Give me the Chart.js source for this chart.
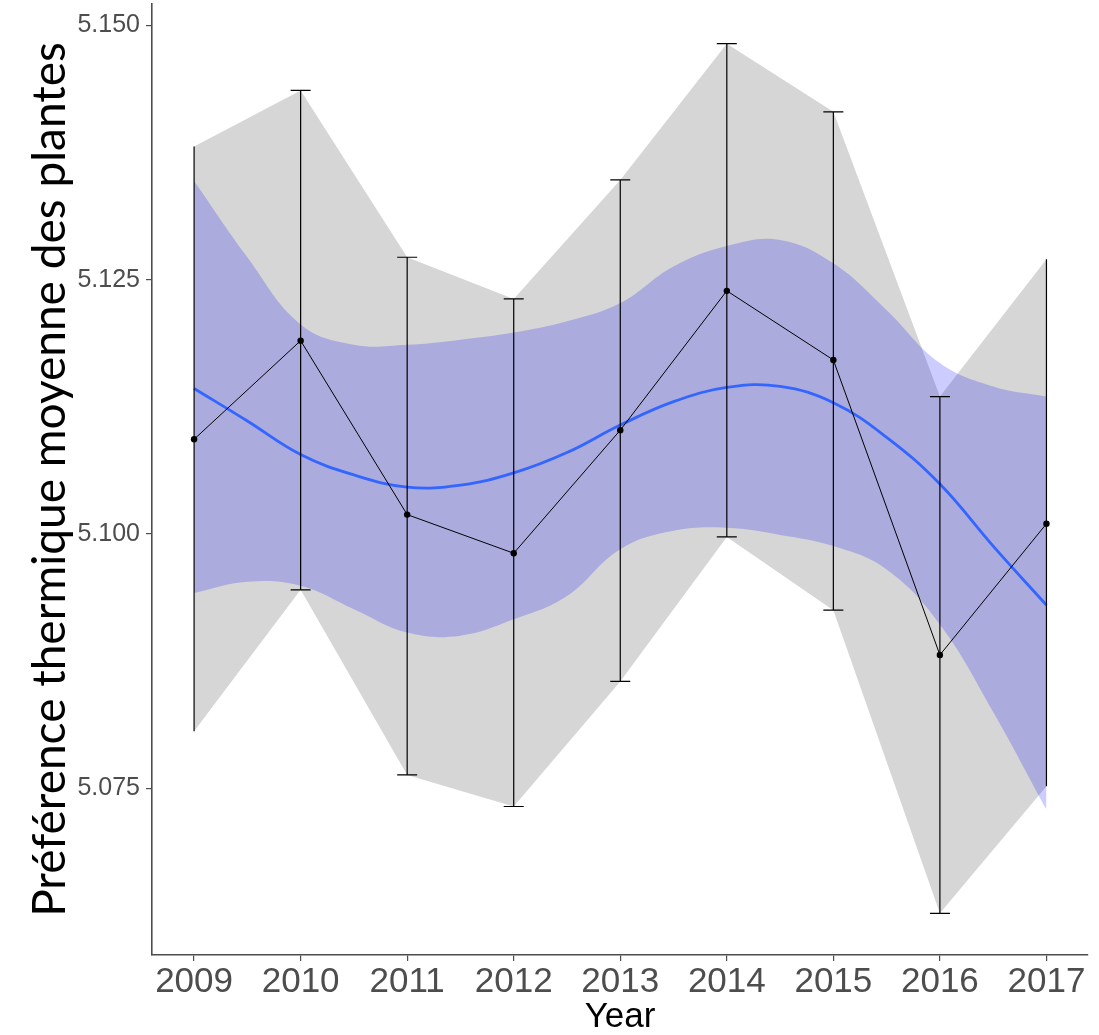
<!DOCTYPE html>
<html lang="fr">
  <head>
    <meta charset="UTF-8" />
    <title>Préférence thermique moyenne des plantes</title>
    <style>
      body {
        margin: 0;
        padding: 0;
        background-color: white;
      }
      .chart-container {
        width: 1099px;
        height: 1035px;
      }
    </style>
  </head>
  <body>
    <div class="chart-container">
      <canvas id="myChart"></canvas>
    </div>
    <script src="https://cdn.jsdelivr.net/npm/chart.js@4.4.1/dist/chart.umd.min.js"></script>
    <script>
      // yearly means with error bar ends
      const years = [2009, 2010, 2011, 2012, 2013, 2014, 2015, 2016, 2017];
      const meanVals = [5.1093, 5.119, 5.1019, 5.0981, 5.1102, 5.1239, 5.1171, 5.0881, 5.101];
      const ciLow = [5.0806, 5.0945, 5.0763, 5.0732, 5.0855, 5.0997, 5.0925, 5.0627, 5.0752];
      const ciHigh = [5.1381, 5.1436, 5.1272, 5.1231, 5.1348, 5.1482, 5.1415, 5.1135, 5.127];

      // loess fit read every half year
      const smoothYears = [2009, 2009.5, 2010, 2010.5, 2011, 2011.5, 2012, 2012.5, 2013,
        2013.5, 2014, 2014.5, 2015, 2015.5, 2016, 2016.5, 2017];
      const smoothFit = [5.1143, 5.1111, 5.1078, 5.1058, 5.1046, 5.1048, 5.106, 5.108, 5.1107,
        5.113, 5.1144, 5.1145, 5.1129, 5.1095, 5.1049, 5.0988, 5.093];
      const bandUpper = [5.1347, 5.1272, 5.1206, 5.1186, 5.1186, 5.1191, 5.1198, 5.1209, 5.1227,
        5.1263, 5.1283, 5.1289, 5.1266, 5.122, 5.1168, 5.1145, 5.1135];
      const bandLower = [5.0942, 5.0953, 5.0949, 5.0926, 5.0903, 5.09, 5.0916, 5.0939, 5.0985,
        5.1003, 5.1006, 5.0999, 5.0988, 5.0965, 5.0911, 5.0825, 5.0729];

      const yTicks = [5.075, 5.1, 5.125, 5.15];

      const pts = (xs, ys) => xs.map((x, i) => ({ x: x, y: ys[i] }));
      const axisGrey = "#4d4d4d";
      const arial = "'Liberation Sans', Arial, sans-serif";

      const errorBars = {
        id: "errorBars",
        afterDatasetsDraw(chart) {
          const { ctx, scales } = chart;
          ctx.save();
          ctx.strokeStyle = "#000";
          ctx.lineWidth = 1.2;
          years.forEach((yr, i) => {
            const x = scales.x.getPixelForValue(yr);
            const top = scales.y.getPixelForValue(ciHigh[i]);
            const bot = scales.y.getPixelForValue(ciLow[i]);
            ctx.beginPath();
            ctx.moveTo(x, top);
            ctx.lineTo(x, bot);
            // the first and last bars have no caps in the original
            if (i > 0 && i < years.length - 1) {
              ctx.moveTo(x - 10, top);
              ctx.lineTo(x + 10, top);
              ctx.moveTo(x - 10, bot);
              ctx.lineTo(x + 10, bot);
            }
            ctx.stroke();
          });
          ctx.restore();
        },
      };

      const data = {
        datasets: [
          {
            label: "ci high",
            data: pts(years, ciHigh),
            fill: "+1",
            backgroundColor: "#d6d6d6",
            borderWidth: 0,
            pointRadius: 0,
            order: 6,
          },
          {
            label: "ci low",
            data: pts(years, ciLow),
            borderWidth: 0,
            pointRadius: 0,
            order: 6,
          },
          {
            label: "band upper",
            data: pts(smoothYears, bandUpper),
            fill: "+1",
            backgroundColor: "rgba(0, 0, 255, 0.2)",
            borderWidth: 0,
            pointRadius: 0,
            tension: 0.4,
            order: 5,
          },
          {
            label: "band lower",
            data: pts(smoothYears, bandLower),
            borderWidth: 0,
            pointRadius: 0,
            tension: 0.4,
            order: 5,
          },
          {
            label: "loess",
            data: pts(smoothYears, smoothFit),
            borderColor: "#3366FF",
            borderWidth: 2.8,
            pointRadius: 0,
            tension: 0.4,
            order: 2,
          },
          {
            label: "mean",
            data: pts(years, meanVals),
            borderColor: "#000",
            borderWidth: 1,
            pointRadius: 3.2,
            pointBackgroundColor: "#000",
            pointBorderWidth: 0,
            order: 1,
          },
        ],
      };

      const config = {
        type: "line",
        data: data,
        options: {
          responsive: true,
          maintainAspectRatio: false,
          animation: false,
          layout: { padding: { top: 0, right: 11, left: 0, bottom: 0 } },
          plugins: {
            legend: { display: false },
            tooltip: { enabled: false },
          },
          scales: {
            x: {
              type: "linear",
              min: 2008.605,
              max: 2017.39,
              afterBuildTicks: (scale) => {
                scale.ticks = years.map((v) => ({ value: v }));
              },
              afterFit: (scale) => {
                scale.height = 80;
              },
              grid: { drawOnChartArea: false, color: axisGrey, tickLength: 6, lineWidth: 1.2 },
              border: { display: true, color: axisGrey, width: 1.6 },
              ticks: {
                color: axisGrey,
                padding: 0,
                font: { family: arial, size: 35 },
                callback: (v) => String(v),
              },
              title: {
                display: true,
                text: "Year",
                color: "#000",
                padding: { top: 0, bottom: 0 },
                font: { family: arial, size: 35, lineHeight: 1 },
              },
            },
            y: {
              min: 5.0586,
              max: 5.1521,
              afterBuildTicks: (scale) => {
                scale.ticks = yTicks.map((v) => ({ value: v }));
              },
              afterFit: (scale) => {
                scale.width = 152;
                scale.paddingTop = 0;
              },
              grid: { drawOnChartArea: false, color: axisGrey, tickLength: 6, lineWidth: 1.2 },
              border: { display: true, color: axisGrey, width: 1.6 },
              ticks: {
                color: axisGrey,
                padding: 6,
                font: { family: arial, size: 25, lineHeight: 0.1 },
                callback: (v) => v.toFixed(3),
              },
              title: {
                display: true,
                text: "Préférence thermique moyenne des plantes",
                color: "#000",
                padding: { top: 23, bottom: 0 },
                font: { family: "Lato, sans-serif", size: 46, lineHeight: 1.2 },
              },
            },
          },
        },
        plugins: [errorBars],
      };

      const ctx = document.getElementById("myChart").getContext("2d");
      const myChart = new Chart(ctx, config);
    </script>
  </body>
</html>
